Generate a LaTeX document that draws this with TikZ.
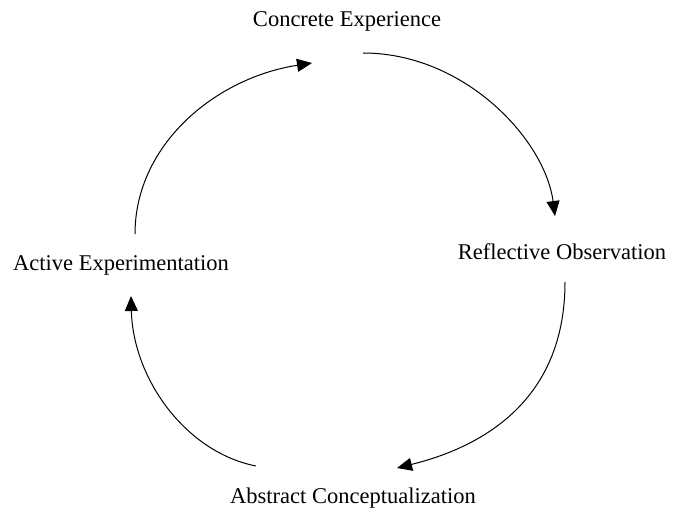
\documentclass[tikz,border=0pt]{standalone}
\usepackage{fontspec}
\setmainfont{Liberation Serif}
\usetikzlibrary{arrows.meta}
\begin{document}
\begin{tikzpicture}[x=1pt,y=-1pt,
  lbl/.style={font=\fontsize{22.5}{26}\selectfont, inner sep=0pt, anchor=base},
  cyc/.style={line width=1pt, -{Triangle[length=15pt,width=13pt]}}]
\useasboundingbox (0,0) rectangle (676,513);
\node[lbl] (ce) at (347,27) {Concrete Experience};
\node[lbl] (ro) at (562,259) {Reflective Observation};
\node[lbl] (ac) at (353,503) {Abstract Conceptualization};
\node[lbl] (ae) at (121,270) {Active Experimentation};
\coordinate (s1) at (363,53);  \coordinate (e1) at (555,216);
\coordinate (s2) at (565,282); \coordinate (e2) at (397,468);
\coordinate (s3) at (256,466); \coordinate (e3) at (131,296);
\coordinate (s4) at (135,234); \coordinate (e4) at (312,63);
\draw[cyc] (s1) .. controls (465,53) and (545,140) .. (e1);
\draw[cyc] (s2) .. controls (565,395) and (490,445) .. (e2);
\draw[cyc] (s3) .. controls (185,452) and (133,378) .. (e3);
\draw[cyc] (s4) .. controls (135,145) and (215,78) .. (e4);
\end{tikzpicture}
\end{document}
